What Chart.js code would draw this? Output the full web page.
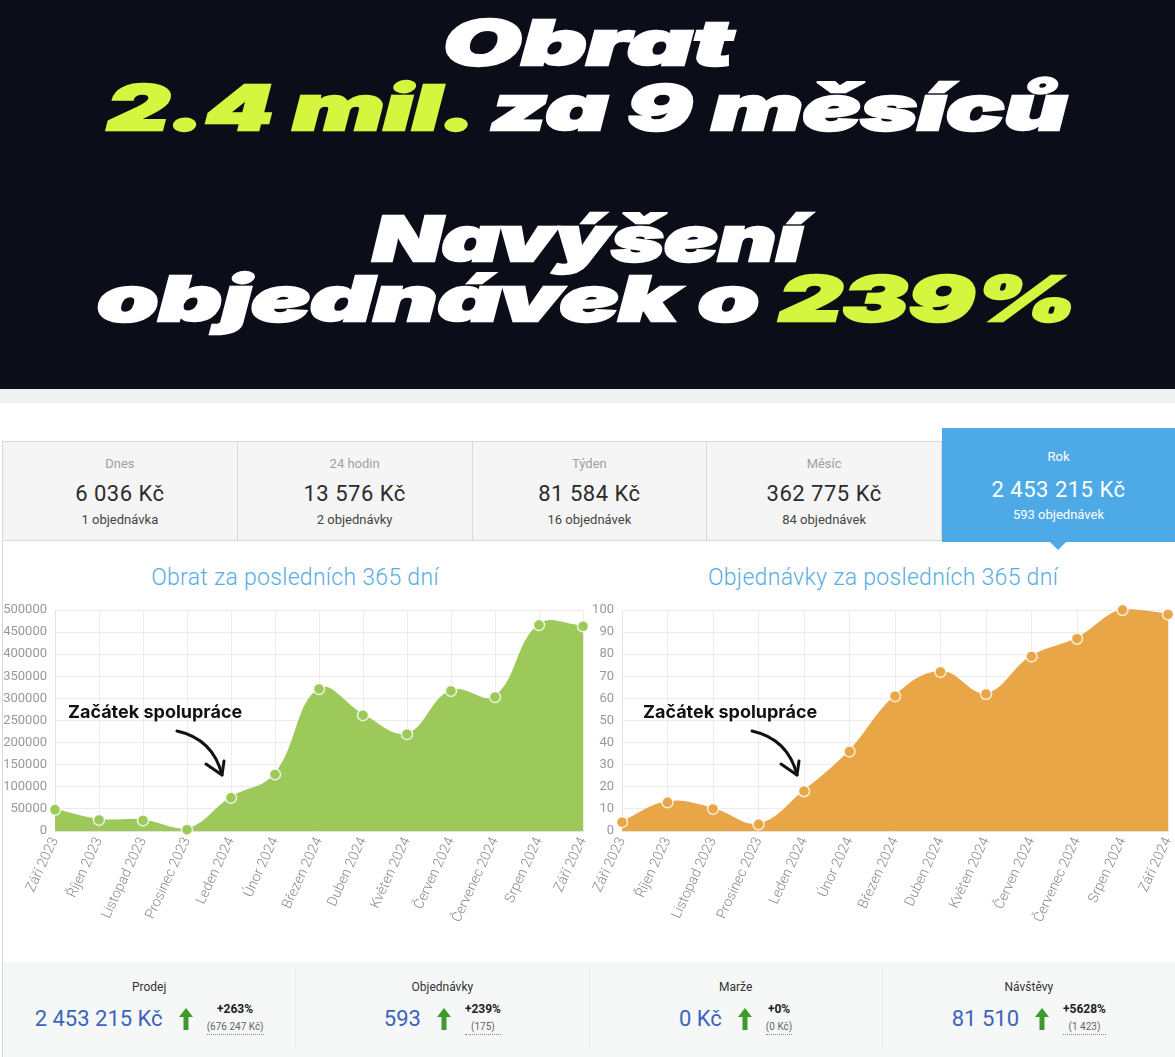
<!DOCTYPE html>
<html lang="cs">
<head>
<meta charset="UTF-8">
<script src="https://cdn.jsdelivr.net/npm/chart.js"></script>
<style>
    body { margin: 0; width: 1175px; height: 1057px; overflow: hidden; background: #fff; font-family: Roboto, "Open Sans", sans-serif; position: relative; }
    .hero { position: absolute; left: 0; top: 0; width: 1175px; height: 389px; background: #0b0e18; }
    .strip { position: absolute; left: 0; top: 389px; width: 1175px; height: 14px; background: #eef0f1; }
    .hl-line { position: absolute; left: 0; width: 1175px; text-align: center; font-family: Inter, Lato, sans-serif; font-weight: 900; font-style: italic; font-size: 62px; line-height: 62px; color: #fff; white-space: nowrap; -webkit-text-stroke: 2.5px currentColor; }
    .hl-line span.hl { display: inline-block; transform-origin: center; }
    .lime { color: #d5f53f; }
    .tabs { position: absolute; left: 2px; top: 441px; width: 940px; height: 100px; display: flex; border: 1px solid #d8d8d8; border-right: none; background: #f5f5f5; box-sizing: border-box; }
    .tab { flex: 1; border-right: 1px solid #d8d8d8; text-align: center; position: relative; }
    .tab .lab { position: absolute; left: 0; right: 0; top: 14px; font-size: 13px; color: #a0a0a0; }
    .tab .val { position: absolute; left: 0; right: 0; top: 39px; font-size: 22px; color: #2b2b2b; letter-spacing: 0.5px; }
    .tab .sub { position: absolute; left: 0; right: 0; top: 70px; font-size: 13px; color: #444; }
    .tab.active { position: absolute; left: 942px; top: 428px; width: 233px; height: 114px; background: #4eaae6; border: none; flex: none; }
    .tab.active .lab { top: 21px; color: #fff; }
    .tab.active .val { top: 49px; color: #fff; }
    .tab.active .sub { top: 79px; color: #fff; }
    .tab.active::after { content: ""; position: absolute; left: 108px; bottom: -8px; border-left: 8px solid transparent; border-right: 8px solid transparent; border-top: 8px solid #4eaae6; }
    .panel-border { position: absolute; left: 2px; top: 541px; width: 1px; height: 516px; background: #d8d8d8; }
    .ctitle { position: absolute; top: 564px; font-size: 23px; font-weight: 300; letter-spacing: 0.3px; color: #58ade2; text-align: center; width: 590px; }
    .cwrap { position: absolute; top: 595px; width: 590px; height: 360px; }
    .stats { position: absolute; left: 3px; top: 962px; width: 1172px; height: 95px; background: #f6f7f7; display: flex; }
    .stat { flex: 1; position: relative; border-right: 1px solid #ececec; margin: 6px 0; }
    .stat:last-child { border-right: none; }
    .stat .lab { position: absolute; left: 0; right: 0; top: 12px; text-align: center; font-size: 12px; color: #333; }
    .stat .row { position: absolute; left: 0; right: 0; top: 34px; display: flex; justify-content: center; align-items: center; }
    .stat .num { font-size: 22px; color: #3b63c0; margin-right: 16px; }
    .stat .arr { width: 14px; height: 22px; margin-right: 14px; }
    .stat .chg { text-align: center; }
    .stat .pct { font-size: 12px; font-weight: bold; color: #222; }
    .stat .base { font-size: 10px; color: #666; margin-top: 5px; border-bottom: 1px dotted #888; padding-bottom: 2px; }
</style>
</head>
<body>
<div class="hero">
    <div class="hl-line" style="top:12px"><span class="hl" data-w="290">Obrat</span></div>
    <div class="hl-line" style="top:77px"><span class="hl" data-w="960"><span class="lime">2.4 mil.</span> za 9 měsíců</span></div>
    <div class="hl-line" style="top:208px"><span class="hl" data-w="430">Navýšení</span></div>
    <div class="hl-line" style="top:268px"><span class="hl" data-w="980">objednávek o <span class="lime">239%</span></span></div>
</div>
<div class="strip"></div>

<div class="tabs">
    <div class="tab"><div class="lab">Dnes</div><div class="val">6 036 Kč</div><div class="sub">1 objednávka</div></div>
    <div class="tab"><div class="lab">24 hodin</div><div class="val">13 576 Kč</div><div class="sub">2 objednávky</div></div>
    <div class="tab"><div class="lab">Týden</div><div class="val">81 584 Kč</div><div class="sub">16 objednávek</div></div>
    <div class="tab"><div class="lab">Měsíc</div><div class="val">362 775 Kč</div><div class="sub">84 objednávek</div></div>
</div>
<div class="tab active"><div class="lab">Rok</div><div class="val">2 453 215 Kč</div><div class="sub">593 objednávek</div></div>
<div class="panel-border"></div>

<div class="ctitle" style="left:0">Obrat za posledních 365 dní</div>
<div class="ctitle" style="left:588px">Objednávky za posledních 365 dní</div>

<div class="cwrap" style="left:0"><canvas id="obratChart"></canvas></div>
<div class="cwrap" style="left:585px"><canvas id="objChart"></canvas></div>

<div class="stats">
    <div class="stat"><div class="lab">Prodej</div><div class="row"><span class="num">2 453 215 Kč</span><svg class="arr" viewBox="0 0 14 22"><path d="M7 0 L14 9 L9.5 9 L9.5 22 L4.5 22 L4.5 9 L0 9 Z" fill="#3f9b2b"/></svg><div class="chg"><div class="pct">+263%</div><div class="base">(676 247 Kč)</div></div></div></div>
    <div class="stat"><div class="lab">Objednávky</div><div class="row"><span class="num">593</span><svg class="arr" viewBox="0 0 14 22"><path d="M7 0 L14 9 L9.5 9 L9.5 22 L4.5 22 L4.5 9 L0 9 Z" fill="#3f9b2b"/></svg><div class="chg"><div class="pct">+239%</div><div class="base">(175)</div></div></div></div>
    <div class="stat"><div class="lab">Marže</div><div class="row"><span class="num">0 Kč</span><svg class="arr" viewBox="0 0 14 22"><path d="M7 0 L14 9 L9.5 9 L9.5 22 L4.5 22 L4.5 9 L0 9 Z" fill="#3f9b2b"/></svg><div class="chg"><div class="pct">+0%</div><div class="base">(0 Kč)</div></div></div></div>
    <div class="stat"><div class="lab">Návštěvy</div><div class="row"><span class="num">81 510</span><svg class="arr" viewBox="0 0 14 22"><path d="M7 0 L14 9 L9.5 9 L9.5 22 L4.5 22 L4.5 9 L0 9 Z" fill="#3f9b2b"/></svg><div class="chg"><div class="pct">+5628%</div><div class="base">(1 423)</div></div></div></div>
</div>

<script>
    // data
    const months = ['Září 2023', 'Říjen 2023', 'Listopad 2023', 'Prosinec 2023', 'Leden 2024', 'Únor 2024', 'Březen 2024',
        'Duben 2024', 'Květen 2024', 'Červen 2024', 'Červenec 2024', 'Srpen 2024', 'Září 2024'];
    const obrat = [48000, 25000, 24000, 3000, 75000, 128000, 321000, 262000, 219000, 317000, 303000, 466000, 463000];
    const objednavky = [4, 13, 10, 3, 18, 36, 61, 72, 62, 79, 87, 100, 98];

    // stretch the headline lines to the widths in the picture
    document.querySelectorAll('.hl').forEach(el => {
        const w = el.getBoundingClientRect().width;
        el.style.transform = 'scaleX(' + (parseFloat(el.dataset.w) / w) + ')';
    });

    // "Začátek spolupráce" note with a curved arrow
    const notePlugin = {
        id: 'note',
        afterDatasetsDraw(chart, args, o) {
            const c = chart.ctx;
            c.save();
            c.font = 'bold 18px Inter, sans-serif';
            c.fillStyle = '#111';
            c.fillText('Začátek spolupráce', o.tx, o.ty);
            c.strokeStyle = '#111';
            c.lineWidth = 3;
            c.lineCap = 'round';
            c.lineJoin = 'round';
            c.beginPath();
            c.moveTo(o.ax, o.ay);
            c.quadraticCurveTo(o.ax + 36, o.ay + 8, o.ax + 45, o.ay + 44);
            c.stroke();
            c.beginPath();
            c.moveTo(o.ax + 29, o.ay + 33);
            c.lineTo(o.ax + 45, o.ay + 44);
            c.lineTo(o.ax + 47, o.ay + 30);
            c.stroke();
            c.restore();
        }
    };

    const makeChart = (id, data, color, max, step, yWidth, padRight, note) => {
        return new Chart(document.getElementById(id), {
            type: 'line',
            data: {
                labels: months,
                datasets: [{
                    data: data,
                    fill: 'origin',
                    backgroundColor: color,
                    borderColor: color,
                    borderWidth: 2,
                    tension: 0.4,
                    pointRadius: 5.5,
                    pointBackgroundColor: color,
                    pointBorderColor: 'rgba(255,255,255,0.8)',
                    pointBorderWidth: 1.5,
                    clip: false
                }]
            },
            options: {
                responsive: true,
                maintainAspectRatio: false,
                animation: false,
                layout: { padding: { top: 15, right: padRight, left: 0, bottom: 0 } },
                scales: {
                    x: {
                        offset: false,
                        grid: { color: '#ececec', drawTicks: false },
                        border: { color: '#e4e4e4' },
                        ticks: { minRotation: 65, maxRotation: 65, color: '#888', font: { size: 14, family: 'Roboto', weight: 300 }, padding: 4, autoSkip: false },
                        afterFit: s => { s.height = 124; s.paddingLeft = 0; s.paddingRight = 0; }
                    },
                    y: {
                        min: 0, max: max,
                        grid: { color: '#ececec', drawTicks: false },
                        border: { color: '#e4e4e4' },
                        ticks: { stepSize: step, color: '#999', font: { size: 13, family: 'Roboto' }, padding: 8, callback: v => String(v) },
                        afterFit: s => { s.width = yWidth; s.paddingTop = 0; s.paddingBottom = 0; }
                    }
                },
                plugins: { legend: { display: false }, tooltip: { enabled: false }, note: note }
            },
            plugins: [notePlugin]
        });
    };

    makeChart('obratChart', obrat, '#9cc95a', 500000, 50000, 55, 7, { tx: 68, ty: 123, ax: 177, ay: 136 });
    makeChart('objChart', objednavky, '#e9a647', 100, 10, 37, 1, { tx: 58, ty: 123, ax: 167, ay: 136 });
</script>
</body>
</html>
